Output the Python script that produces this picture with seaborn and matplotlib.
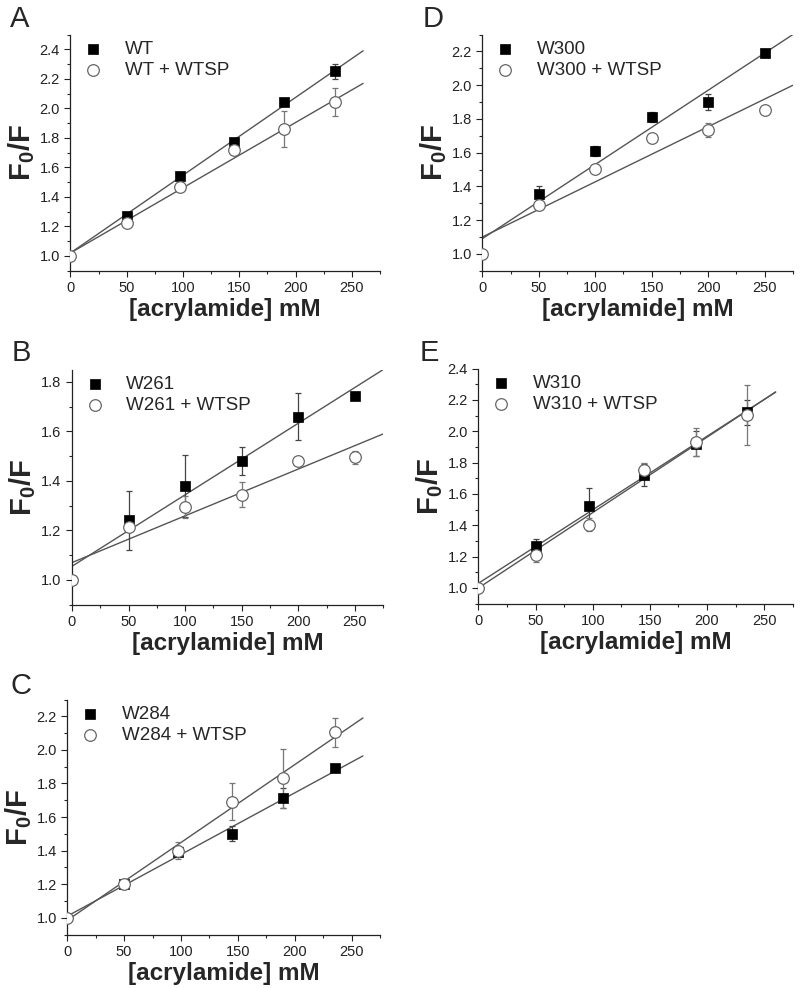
import numpy as np
import pandas as pd
import seaborn as sns
import matplotlib.pyplot as plt
from matplotlib.ticker import MultipleLocator

sns.set_style("ticks")
plt.rcParams['font.family'] = ['Liberation Sans', 'DejaVu Sans']
plt.rcParams['mathtext.fontset'] = 'custom'
plt.rcParams['mathtext.rm'] = 'Liberation Sans'
plt.rcParams['mathtext.bf'] = 'Liberation Sans:bold'

# ---- data ----
panels = ["A", "D", "B", "E", "C"]
names = ["WT", "W300", "W261", "W310", "W284"]

sq_x = [[50, 97, 145, 190, 235], [50, 100, 150, 200, 250], [50, 100, 150, 200, 250],
        [50, 97, 145, 190, 235], [50, 97, 145, 190, 235]]
sq_y = [[1.27, 1.54, 1.77, 2.04, 2.25], [1.355, 1.61, 1.81, 1.90, 2.19],
        [1.24, 1.38, 1.48, 1.66, 1.745], [1.27, 1.52, 1.72, 1.92, 2.12],
        [1.20, 1.39, 1.50, 1.715, 1.89]]
sq_e = [[0.01, 0.01, 0.01, 0.01, 0.05], [0.05, 0.03, 0.03, 0.05, 0.02],
        [0.12, 0.125, 0.055, 0.095, 0.0], [0.045, 0.12, 0.07, 0.08, 0.08],
        [0.02, 0.03, 0.045, 0.06, 0.01]]

ci_x = [[0, 50, 97, 145, 190, 235], [0, 50, 100, 150, 200, 250], [0, 50, 100, 150, 200, 250],
        [0, 50, 97, 145, 190, 235], [0, 50, 97, 145, 190, 235]]
ci_y = [[1.0, 1.22, 1.47, 1.72, 1.86, 2.04], [1.0, 1.29, 1.505, 1.685, 1.735, 1.85],
        [1.0, 1.215, 1.295, 1.345, 1.48, 1.495], [1.0, 1.21, 1.405, 1.75, 1.93, 2.105],
        [1.0, 1.2, 1.40, 1.69, 1.83, 2.105]]
ci_e = [[0.0, 0.01, 0.01, 0.01, 0.125, 0.095], [0.0, 0.02, 0.015, 0.01, 0.04, 0.015],
        [0.0, 0.01, 0.045, 0.05, 0.01, 0.025], [0.0, 0.045, 0.04, 0.05, 0.09, 0.19],
        [0.01, 0.01, 0.05, 0.11, 0.175, 0.085]]

# linear fits (intercept, slope) and fitted x range
fit_sq = [(1.02, 0.00527), (1.09, 0.0044), (1.055, 0.00289), (1.03, 0.00469), (1.01, 0.00367)]
fit_ci = [(1.02, 0.00442), (1.10, 0.00327), (1.07, 0.00189), (1.00, 0.00481), (0.985, 0.004635)]
fit_xmax = [260, 275, 275, 260, 260]

ylims = [(0.9, 2.5), (0.9, 2.3), (0.9, 1.85), (0.9, 2.4), (0.9, 2.3)]

# ---- layout ----
boxes = [[0.088, 0.726, 0.387, 0.239], [0.603, 0.726, 0.388, 0.239],
         [0.090, 0.388, 0.389, 0.238], [0.598, 0.389, 0.393, 0.238],
         [0.084, 0.054, 0.391, 0.238]]
letter_pos = [(0.012, 0.995), (0.528, 0.995), (0.015, 0.657), (0.525, 0.657), (0.013, 0.320)]

fig = plt.figure(figsize=(8, 9.88), dpi=100)
line_col = "#555555"

for i in range(5):
    ax = fig.add_axes(boxes[i])
    sq = pd.DataFrame({"x": sq_x[i], "y": sq_y[i]})
    ci = pd.DataFrame({"x": ci_x[i], "y": ci_y[i]})

    xs = np.array([0, fit_xmax[i]])
    for (b, m) in (fit_sq[i], fit_ci[i]):
        sns.lineplot(x=xs, y=b + m * xs, ax=ax, color=line_col, lw=1.0, zorder=1)

    ax.errorbar(sq_x[i], sq_y[i], yerr=sq_e[i], fmt="none", ecolor="#444444",
                elinewidth=0.9, capsize=2.5, capthick=0.9, zorder=2)
    ax.errorbar(ci_x[i], ci_y[i], yerr=ci_e[i], fmt="none", ecolor="#777777",
                elinewidth=0.9, capsize=2.5, capthick=0.9, zorder=2)

    sns.scatterplot(data=sq, x="x", y="y", ax=ax, marker="s", s=55, color="black",
                    edgecolor="black", linewidth=0.5, label=names[i], zorder=3)
    sns.scatterplot(data=ci, x="x", y="y", ax=ax, marker="o", s=70, color="white",
                    edgecolor="#666666", linewidth=0.9, label=names[i] + " + WTSP", zorder=4)

    ax.set_xlim(0, 275)
    ax.set_ylim(*ylims[i])
    ax.xaxis.set_major_locator(MultipleLocator(50))
    ax.xaxis.set_minor_locator(MultipleLocator(25))
    ax.yaxis.set_major_locator(MultipleLocator(0.2))
    ax.yaxis.set_minor_locator(MultipleLocator(0.1))
    ax.yaxis.set_major_formatter(plt.FormatStrFormatter("%.1f"))
    ax.tick_params(which="major", direction="out", length=4, width=0.8, labelsize=10.5,
                   colors="#222222")
    ax.tick_params(which="minor", direction="out", length=2.5, width=0.8)
    for s in ("top", "right"):
        ax.spines[s].set_visible(False)
    for s in ("left", "bottom"):
        ax.spines[s].set_linewidth(0.9)
        ax.spines[s].set_color("#222222")

    ax.set_xlabel("[acrylamide] mM", fontsize=17.5, fontweight="bold", labelpad=2)
    ax.set_ylabel("F$_\\mathbf{0}$/F", fontsize=21, fontweight="bold", labelpad=2)

    ax.legend(loc="upper left", bbox_to_anchor=(0.0, 1.03), frameon=False, fontsize=13.5,
              handlelength=1.0, handletextpad=1.2, labelspacing=0.2, borderaxespad=0.3)

    fig.text(letter_pos[i][0], letter_pos[i][1], panels[i], fontsize=21, va="top", ha="left")

fig.savefig("out.png", dpi=100)
